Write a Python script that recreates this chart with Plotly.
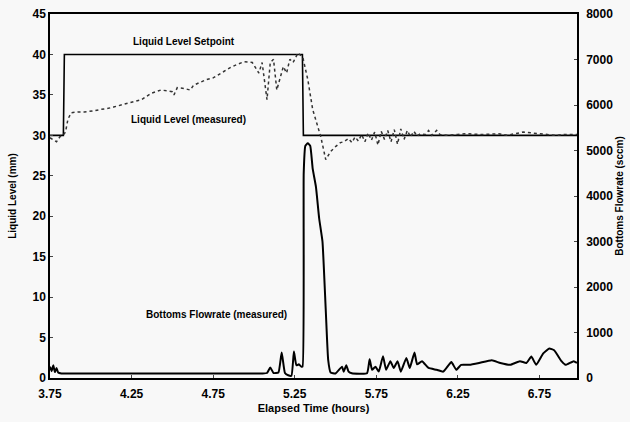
import plotly.graph_objects as go

# Setpoint (mm)
sp_t = [3.75, 3.832, 3.838, 5.297, 5.303, 6.98]
sp_v = [30.0, 30.0, 40.0, 40.0, 30.0, 30.0]

# Measured liquid level (mm)
lvl_t = [3.75, 3.77, 3.79, 3.81, 3.83, 3.845, 3.86, 3.88, 3.92, 3.96, 4.01, 4.06, 4.10, 4.14,
         4.19, 4.23, 4.27, 4.31, 4.35, 4.37, 4.40, 4.43, 4.47, 4.50, 4.51, 4.53, 4.57, 4.61,
         4.63, 4.67, 4.71, 4.75, 4.80, 4.857, 4.90, 4.94, 4.99, 5.03, 5.05, 5.08, 5.10, 5.12,
         5.14, 5.16, 5.18, 5.20, 5.22, 5.24, 5.27, 5.30, 5.33, 5.36, 5.41, 5.44, 5.47, 5.50,
         5.53, 5.55, 5.58, 5.60, 5.62, 5.64, 5.66, 5.68, 5.70, 5.72, 5.74, 5.76, 5.78, 5.80,
         5.82, 5.84, 5.86, 5.88, 5.90, 5.92, 5.94, 5.96, 5.98, 6.00, 6.02, 6.05, 6.07, 6.09,
         6.12, 6.14, 6.18, 6.25, 6.30, 6.40, 6.50, 6.55, 6.62, 6.65, 6.70, 6.75, 6.80, 6.85,
         6.90, 6.98]
lvl_v = [29.7, 29.4, 29.2, 29.8, 30.0, 30.4, 32.0, 32.8, 32.9, 32.9, 33.0, 33.2, 33.3, 33.5,
         33.8, 34.0, 34.2, 34.4, 34.9, 35.2, 35.4, 35.6, 35.5, 35.4, 35.0, 35.9, 35.8, 35.6,
         36.2, 36.6, 36.9, 37.1, 37.7, 38.4, 38.8, 39.1, 39.0, 37.7, 39.0, 34.4, 39.0, 39.4,
         35.6, 36.9, 38.5, 37.7, 39.4, 39.0, 40.2, 39.6, 36.9, 33.2, 29.8, 27.0, 28.0, 28.6,
         29.1, 29.2, 29.6, 29.1, 29.8, 29.3, 30.1, 29.2, 30.3, 29.4, 30.4, 28.8, 30.5, 29.5,
         30.6, 29.2, 30.7, 28.9, 30.8, 29.5, 30.6, 29.8, 30.5, 29.9, 30.2, 30.1, 30.6, 30.0,
         30.6, 30.1, 30.0, 30.1, 30.2, 30.1, 30.2, 30.0, 30.3, 30.4, 30.3, 30.2, 30.1, 30.0,
         30.1, 30.1]

# Bottoms flowrate (sccm)
flow_t = [3.75, 3.76, 3.77, 3.78, 3.79, 3.80, 3.82, 3.90, 4.20, 4.60, 5.05, 5.08, 5.10, 5.12,
          5.15, 5.17, 5.19, 5.21, 5.23, 5.245, 5.26, 5.275, 5.29, 5.298, 5.305, 5.315, 5.33,
          5.345, 5.36, 5.38, 5.40, 5.42, 5.44, 5.455, 5.47, 5.50, 5.54, 5.55, 5.566, 5.58,
          5.60, 5.693, 5.709, 5.724, 5.745, 5.765, 5.791, 5.81, 5.836, 5.857, 5.88, 5.90, 5.934,
          5.955, 5.984, 6.00, 6.03, 6.07, 6.12, 6.16, 6.21, 6.24, 6.27, 6.32, 6.38, 6.458,
          6.51, 6.57, 6.63, 6.67, 6.70, 6.73, 6.773, 6.81, 6.84, 6.885, 6.91, 6.96, 6.98]
flow_v = [250, 150, 280, 130, 220, 120, 100, 100, 100, 100, 100, 110, 230, 110,
          120, 560, 110, 60, 50, 580, 280, 300, 250, 250, 4500, 5100, 5160,
          5100, 4600, 4200, 3500, 3000, 1500, 400, 120, 100, 250, 140, 280, 140,
          103, 103, 410, 180, 250, 140, 480, 180, 370, 220, 370, 140, 440,
          220, 560, 300, 370, 220, 180, 140, 350, 180, 290, 290, 330, 390,
          330, 290, 370, 330, 470, 290, 540, 650, 610, 370, 290, 370, 330]

x_ticks = [3.75, 4.25, 4.75, 5.25, 5.75, 6.25, 6.75]
x_tick_labels = ["3.75", "4.25", "4.75", "5.25", "5.75", "6.25", "6.75"]

FONT = "Liberation Sans"
tickfont = dict(family=FONT, size=12, color="black", weight="bold")
annfont = dict(family=FONT, size=10, color="black", weight="bold")

fig = go.Figure()
fig.add_trace(go.Scatter(x=sp_t, y=sp_v, mode="lines",
                         line=dict(color="black", width=1.6), showlegend=False))
fig.add_trace(go.Scatter(x=lvl_t, y=lvl_v, mode="lines",
                         line=dict(color="#333333", width=1.5, dash="dot"), showlegend=False))
fig.add_trace(go.Scatter(x=flow_t, y=flow_v, mode="lines", yaxis="y2",
                         line=dict(color="black", width=2, shape="spline", smoothing=0.4),
                         showlegend=False))

fig.update_layout(
    width=630, height=422,
    margin=dict(l=50, r=53, t=14, b=44),
    paper_bgcolor="#f8f8f8", plot_bgcolor="#f8f8f8",
    xaxis=dict(range=[3.75, 6.98], tickvals=x_ticks, ticktext=x_tick_labels,
               showgrid=False, zeroline=False, showline=True, linecolor="black",
               linewidth=1.5, mirror=True, ticks="inside", ticklen=3,
               tickfont=tickfont, ticklabelstandoff=4, automargin=False,
               title=dict(text="Elapsed Time (hours)",
                          font=dict(family=FONT, size=11, color="black", weight="bold"),
                          standoff=4)),
    yaxis=dict(range=[0, 45], tickvals=list(range(0, 50, 5)),
               showgrid=False, zeroline=False, showline=True, linecolor="black",
               linewidth=1.5, ticks="inside", ticklen=3, tickfont=tickfont,
               automargin=False,
               title=dict(text="Liquid Level (mm)",
                          font=dict(family=FONT, size=10, color="black", weight="bold"),
                          standoff=14)),
    yaxis2=dict(range=[0, 8000], tickvals=list(range(0, 9000, 1000)),
                overlaying="y", side="right",
                showgrid=False, zeroline=False, showline=True, linecolor="black",
                linewidth=1.5, ticks="inside", ticklen=3, tickfont=tickfont,
                ticklabelstandoff=5, automargin=False,
                title=dict(text="Bottoms Flowrate (sccm)",
                           font=dict(family=FONT, size=10, color="black", weight="bold"),
                           standoff=4)),
    annotations=[
        dict(x=4.57, y=41.6, xref="x", yref="y", text="Liquid Level Setpoint",
             showarrow=False, font=annfont),
        dict(x=4.60, y=32.0, xref="x", yref="y", text="Liquid Level (measured)",
             showarrow=False, font=annfont),
        dict(x=4.77, y=7.8, xref="x", yref="y", text="Bottoms Flowrate (measured)",
             showarrow=False, font=annfont),
    ],
)

fig.write_html("out.html")
